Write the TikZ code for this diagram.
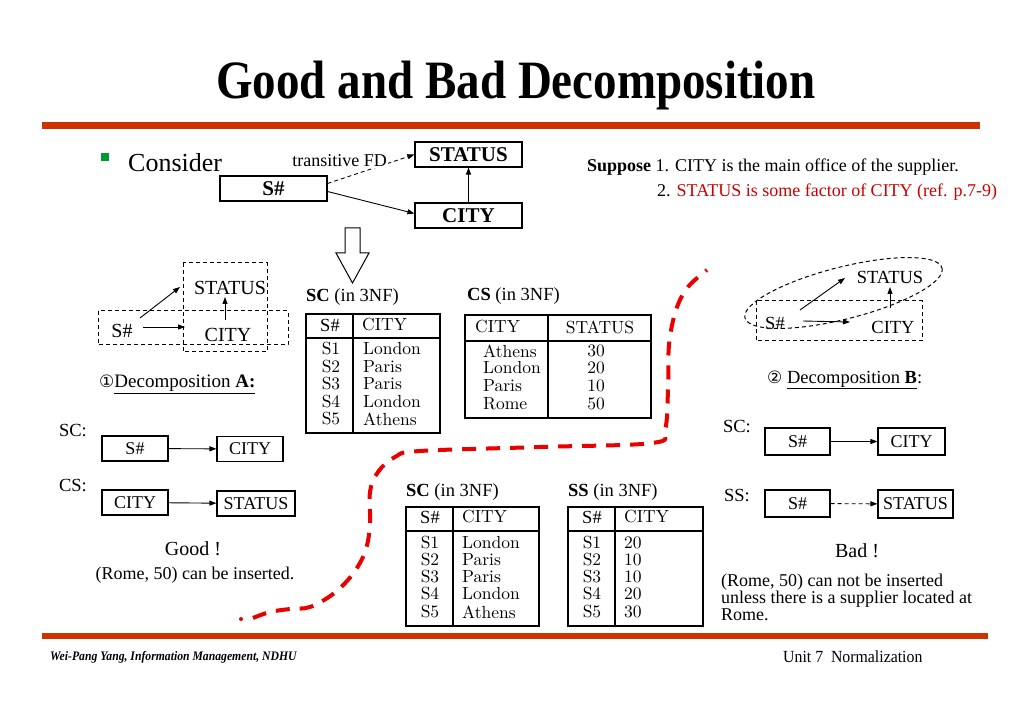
\documentclass[tikz,border=0pt]{standalone}
\usepackage{fontspec}
\usepackage{graphicx}
\setmainfont{Liberation Serif}
\newfontfamily\djv{DejaVu Sans}
\newfontfamily\lmten{lmroman10-regular.otf}
\usetikzlibrary{arrows.meta,shapes.geometric}
\definecolor{bar}{RGB}{204,51,0}
\definecolor{bulletgreen}{RGB}{0,153,51}
\definecolor{txtred}{RGB}{204,0,0}
\definecolor{curvered}{RGB}{235,0,0}
\newcommand{\myfs}[1]{\fontsize{#1}{#1}\selectfont}
\tikzset{
  fbox/.style={draw, line width=1.1pt, inner sep=0pt, minimum height=25pt},
  arr/.style={-{Triangle[length=7pt,width=5pt]}, line width=0.9pt},
  dbox/.style={draw, line width=1pt, dash pattern=on 4pt off 3pt},
  lm/.style={font={\lmten\myfs{17.5}}, inner sep=0pt},
  tline/.style={line width=1.3pt},
  tm/.style={font=\myfs{18.5}, inner sep=0pt},
}
\begin{document}
\begin{tikzpicture}[x=1pt,y=-1pt]
\useasboundingbox (0,0) rectangle (1023,708);
\fill[white] (0,0) rectangle (1023,708);

% title and bars
\node[font=\bfseries\myfs{54}] (title) at (516,86) {\scalebox{0.87}[1]{Good and Bad Decomposition}};
\fill[bar] (42,122.5) rectangle (980,129.5);
\fill[bar] (42,633) rectangle (988,639);

% bullet
\fill[bulletgreen] (101,153) rectangle (109,161);
\node[anchor=west, font=\myfs{26}, inner sep=0pt] (consider) at (128,163) {Consider};

% top diagram
\node[fbox, minimum width=107, font=\bfseries\myfs{21}] (st) at (468.5,154.5) {STATUS};
\node[fbox, minimum width=107, font=\bfseries\myfs{21}] (sn) at (273.5,188.5) {S\#};
\node[fbox, minimum width=107, font=\bfseries\myfs{21}] (ci) at (468.5,215.5) {CITY};
\draw[arr] ([yshift=-3pt]sn.east) -- ([yshift=2pt]ci.west);
\draw[arr] (ci.north) -- (st.south);
\draw[arr, dash pattern=on 4pt off 3pt] ([yshift=5pt]sn.east) -- (st.west);
\node[anchor=east, font=\myfs{18}, fill=white, inner sep=1pt] (tfd) at (388,161) {transitive FD};

% hollow arrow
\draw[line width=1pt] (345,228) -- (360,228) -- (360,253) -- (369,253) -- (352.5,283) -- (336,253) -- (345,253) -- cycle;

% Suppose
\node[anchor=west, font=\myfs{18}, inner sep=0pt] (sup1) at (587,167) {\textbf{Suppose} 1. CITY is the main office of the supplier.};
\node[anchor=west, font=\myfs{18}, inner sep=0pt] (sup2) at (657,192) {2. \textcolor{txtred}{STATUS is some factor of CITY (ref. p.7-9)}};

% diagram A
\draw[dbox] (183,263) rectangle (267,352);
\draw[dbox] (98,311) rectangle (288,345);
\node[font=\myfs{20}, inner sep=0pt] (aS) at (122,331) {S\#};
\node[font=\myfs{20}, inner sep=0pt] (aST) at (230,288) {STATUS};
\node[font=\myfs{20}, inner sep=0pt] (aCI) at (228,335) {CITY};
\draw[arr] ([xshift=18pt,yshift=13pt]aS.center) -- ([xshift=-50pt,yshift=1pt]aST.center);
\draw[arr] ([xshift=21pt,yshift=4pt]aS.center) -- ([xshift=-43pt,yshift=8pt]aCI.center);
\draw[arr] ([xshift=-3pt,yshift=15pt]aCI.center) -- ([xshift=-5pt,yshift=-9pt]aST.center);
\node[anchor=west, font=\myfs{19}, inner sep=0pt] (decA) at (99,384) {{\djv\myfs{17}①}\underline{Decomposition \textbf{A:}}};

% diagram B
\draw[dbox] (756,301) rectangle (922,341);
\draw[dbox, rotate around={14.2:(843.5,293)}] (843.5,293) ellipse [x radius=101.6, y radius=26];
\node[font=\myfs{18.5}, inner sep=0pt] (bS) at (775,323) {S\#};
\node[font=\myfs{18.5}, inner sep=0pt] (bST) at (890,277) {STATUS};
\node[font=\myfs{18.5}, inner sep=0pt] (bCI) at (893,327) {CITY};
\draw[arr] ([xshift=25pt,yshift=13pt]bS.center) -- ([xshift=-45pt,yshift=-1pt]bST.center);
\draw[arr] ([xshift=28pt,yshift=2pt]bS.center) -- ([xshift=-43pt,yshift=5pt]bCI.center);
\draw[arr] ([xshift=-3pt,yshift=19pt]bCI.center) -- ([yshift=-10pt]bST.center);
\node[anchor=west, font=\myfs{18.5}, inner sep=0pt] (decB) at (767,380) {{\djv\myfs{17}②} \underline{Decomposition \textbf{B}}:};

% table 1 SC
\node[tm, anchor=west] (t1t) at (306,297) {\textbf{SC} (in 3NF)};
\draw[tline] (306,314) rectangle (440,433);
\draw[tline] (306,338) -- (440,338);
\draw[tline] (353,314) -- (353,433);
\node[tm] (t1h1) at (330,325) {S\#};
\node[lm, anchor=west] (t1h2) at (362,325) {CITY};
\foreach \y/\a/\b in {349/S1/London, 367/S2/Paris, 384/S3/Paris, 402/S4/London, 419/S5/Athens}{
  \node[lm] (t1a\a) at (331,\y) {\a};
  \node[lm, anchor=west] (t1b\a) at (363,\y) {\b};
}

% table 2 CS
\node[tm, anchor=west] (t2t) at (467,296) {\textbf{CS} (in 3NF)};
\draw[tline] (465,315) rectangle (651,418);
\draw[tline] (465,341) -- (651,341);
\draw[tline] (548,315) -- (548,418);
\node[lm, anchor=west] (t2h1) at (475,327) {CITY};
\node[lm] (t2h2) at (600,327) {STATUS};
\foreach \y/\a/\b in {351/Athens/30, 368/London/20, 386/Paris/10, 404/Rome/50}{
  \node[lm, anchor=west] (t2a\a) at (483,\y) {\a};
  \node[lm] (t2b\a) at (596,\y) {\b};
}

% table 3 SC
\node[tm, anchor=west] (t3t) at (406,492) {\textbf{SC} (in 3NF)};
\draw[tline] (406,507) rectangle (539,626);
\draw[tline] (406,531) -- (539,531);
\draw[tline] (453,507) -- (453,626);
\node[tm] (t3h1) at (430,517) {S\#};
\node[lm, anchor=west] (t3h2) at (462,517) {CITY};
\foreach \y/\a/\b in {543/S1/London, 560/S2/Paris, 577/S3/Paris, 594/S4/London, 612/S5/Athens}{
  \node[lm] (t3a\a) at (430,\y) {\a};
  \node[lm, anchor=west] (t3b\a) at (462,\y) {\b};
}

% table 4 SS
\node[tm, anchor=west] (t4t) at (568,492) {\textbf{SS} (in 3NF)};
\draw[tline] (568,507) rectangle (703,626);
\draw[tline] (568,531) -- (703,531);
\draw[tline] (615,507) -- (615,626);
\node[tm] (t4h1) at (592,517) {S\#};
\node[lm, anchor=west] (t4h2) at (624,517) {CITY};
\foreach \y/\a/\b in {543/S1/20, 560/S2/10, 577/S3/10, 594/S4/20, 612/S5/30}{
  \node[lm] (t4a\a) at (592,\y) {\a};
  \node[lm, anchor=west] (t4b\a) at (624,\y) {\b};
}

% bottom left
\node[font=\myfs{18.5}, inner sep=0pt] (scL) at (73,431) {SC:};
\node[fbox, minimum width=66, font=\myfs{18}] (l1a) at (135,448.5) {S\#};
\node[fbox, minimum width=66, font=\myfs{18}] (l1b) at (250,449) {CITY};
\draw[arr] (l1a) -- (l1b);
\node[font=\myfs{18.5}, inner sep=0pt] (csL) at (73,486) {CS:};
\node[fbox, minimum width=66, font=\myfs{18}] (l2a) at (135,502.5) {CITY};
\node[fbox, minimum width=78, font=\myfs{18}] (l2b) at (256,503.5) {STATUS};
\draw[arr] (l2a) -- (l2b);
\node[font=\myfs{20}, inner sep=0pt] (good) at (193,549) {Good !};
\node[font=\myfs{18}, inner sep=0pt] (goodtxt) at (195,575) {(Rome, 50) can be inserted.};

% bottom right
\node[font=\myfs{18.5}, inner sep=0pt] (scR) at (737,427) {SC:};
\node[fbox, minimum width=65, minimum height=27, font=\myfs{18}] (r1a) at (797.5,441.5) {S\#};
\node[fbox, minimum width=67, minimum height=27, font=\myfs{18}] (r1b) at (911.5,441.5) {CITY};
\draw[arr] (r1a) -- (r1b);
\node[font=\myfs{18.5}, inner sep=0pt] (ssR) at (737,496) {SS:};
\node[fbox, minimum width=65, minimum height=27, font=\myfs{18}] (r2a) at (797.5,503.5) {S\#};
\node[fbox, minimum width=75, minimum height=28, font=\myfs{18}] (r2b) at (915.5,504) {STATUS};
\draw[arr, dash pattern=on 4pt off 3pt] (r2a) -- (r2b);
\node[font=\myfs{20}, inner sep=0pt] (bad) at (857,551) {Bad !};
\node[anchor=west, align=left, font=\fontsize{18}{17}\selectfont, inner sep=0pt] (badtxt) at (721,597) {(Rome, 50) can not be inserted\\unless there is a supplier located at\\Rome.};

% red dashed curve
\fill[curvered] (241,619) circle (2);
\draw[curvered, line width=4pt, dash pattern=on 14pt off 10pt] plot[smooth, tension=0.6] coordinates {(253,618) (270,612) (290,609) (310,607) (333,594) (352,575) (365,552) (370,525) (370,492) (378,472) (395,457) (420,451) (540,447) (652,443) (665,430) (668,390) (669,345) (676,310) (688,287) (707,270)};

% footer
\node[anchor=west, font=\bfseries\itshape\myfs{13}, inner sep=0pt] (foot1) at (50,657) {\scalebox{0.9}[1]{Wei-Pang Yang, Information Management, NDHU}};
\node[anchor=west, font=\myfs{17}, inner sep=0pt] (foot2) at (783,657) {\scalebox{0.93}[1]{Unit 7\enspace Normalization}};
\end{tikzpicture}
\end{document}
